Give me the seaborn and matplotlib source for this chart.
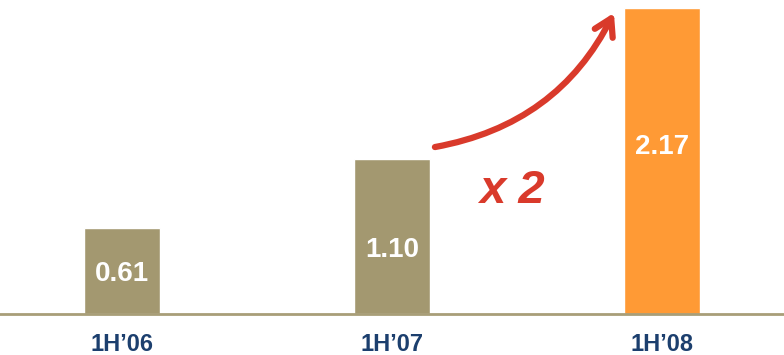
import matplotlib
matplotlib.use("Agg")
import matplotlib.pyplot as plt
import seaborn as sns
import pandas as pd

categories = ["1H\u201906", "1H\u201907", "1H\u201908"]
values = [0.61, 1.10, 2.17]
value_labels = ["0.61", "1.10", "2.17"]
colors = ["#A39870", "#A39870", "#FF9A35"]

sns.set_theme(style="white")
plt.rcParams['font.family'] = ['Liberation Sans', 'DejaVu Sans']

df = pd.DataFrame({"cat": categories, "val": values})

fig = plt.figure(figsize=(7.84, 3.55), dpi=100)
ax = fig.add_axes([0, 41 / 355, 1, 314 / 355])
sns.barplot(data=df, x="cat", y="val", hue="cat", palette=colors, legend=False,
            width=0.28, saturation=1, ax=ax)
ax.set_xlim(-0.452, 2.452)
ax.set_ylim(0, 314 / 141)
for s in ["top", "right", "left"]:
    ax.spines[s].set_visible(False)
ax.spines["bottom"].set_color("#A89E78")
ax.spines["bottom"].set_linewidth(2)
ax.set_yticks([])
ax.set_xlabel("")
ax.set_ylabel("")
ax.tick_params(axis="x", length=0, pad=14)
for lab in ax.get_xticklabels():
    lab.set_fontsize(17)
    lab.set_fontweight("bold")
    lab.set_color("#1C3F6E")

label_y = [0.286, 0.456, 1.186]
for i, (v, t) in enumerate(zip(values, value_labels)):
    ax.text(i, label_y[i], t, ha="center", va="center", color="white",
            fontsize=20, fontweight="bold")

ax.annotate("", xy=(1.822, 2.135), xytext=(1.159, 1.184),
            arrowprops=dict(arrowstyle="->,head_length=1.0,head_width=0.6",
                            color="#D93A2B", lw=4.5, shrinkA=0, shrinkB=0,
                            connectionstyle="arc3,rad=0.25"))
ax.text(1.445, 0.875, "x 2", ha="center", va="center", color="#D93A2B",
        fontsize=34, fontweight="bold", fontstyle="italic")

fig.savefig("out.png", dpi=100)
